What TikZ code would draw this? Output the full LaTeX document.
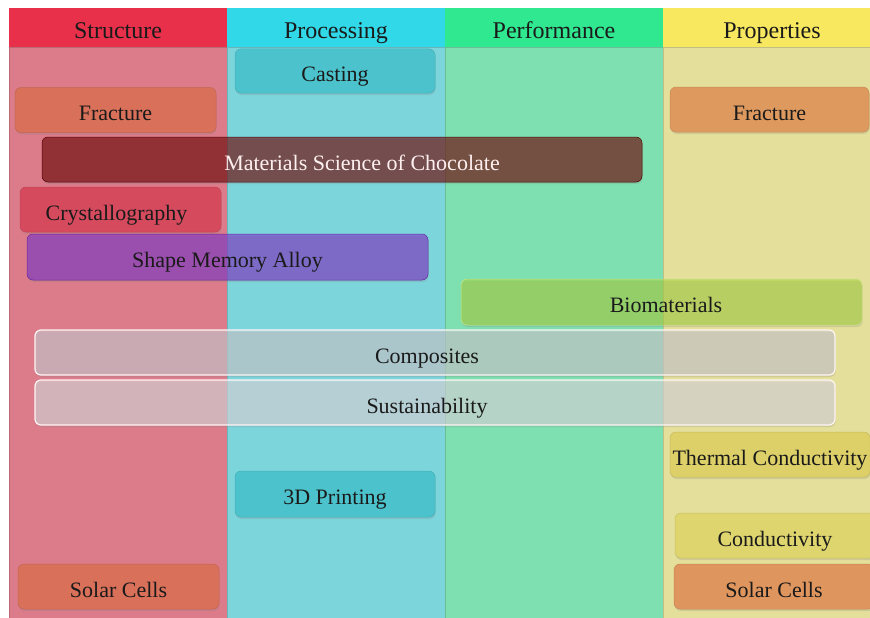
\documentclass[tikz,border=0pt]{standalone}
\usepackage{fontspec}
\setmainfont{Liberation Serif}
\usetikzlibrary{shadows}

% lane colours
\definecolor{structHead}{HTML}{E8304A}
\definecolor{structBody}{HTML}{DC7C8A}
\definecolor{procHead}{HTML}{30D8E8}
\definecolor{procBody}{HTML}{7DD5DC}
\definecolor{perfHead}{HTML}{30E890}
\definecolor{perfBody}{HTML}{7EDFB0}
\definecolor{propHead}{HTML}{F8E860}
\definecolor{propBody}{HTML}{E4DF9A}
% topic colours
\definecolor{castFill}{HTML}{4CC3CC}
\definecolor{fracLeft}{HTML}{D9705A}
\definecolor{fracRight}{HTML}{DE9A5E}
\definecolor{crystFill}{HTML}{D64A5E}
\definecolor{chocFill}{HTML}{6E0000}
\definecolor{smaFill}{HTML}{7D30C8}
\definecolor{bioFill}{HTML}{A5D239}
\definecolor{glassFill}{HTML}{CBC9CF}
\definecolor{thermFill}{HTML}{DDD068}
\definecolor{condFill}{HTML}{DED56E}
\definecolor{solarRight}{HTML}{DF955E}
\definecolor{inkText}{HTML}{1A1A1A}

\tikzset{
	lanehead/.style={rectangle, minimum width=218pt, minimum height=39pt, inner sep=0pt,
		font=\fontsize{24}{27}\selectfont, text=inkText, text height=22pt, text depth=0pt},
	lanebody/.style={rectangle, minimum width=218pt, minimum height=575pt, inner sep=0pt,
		anchor=north, line width=0.5pt},
	topic/.style={rectangle, rounded corners=6pt, minimum height=45pt, inner sep=2pt,
		font=\fontsize{22}{25}\selectfont, text=inkText, line width=0.5pt,
		text height=21pt, text depth=0pt,
		drop shadow={opacity=0.22, shadow xshift=0.6pt, shadow yshift=-2pt}},
	seethru/.style={fill opacity=#1, text opacity=1}
}

\begin{document}
\begin{tikzpicture}[x=1pt, y=-1pt]
	\useasboundingbox (0,0) rectangle (870,618);
	\fill[white] (0,0) rectangle (870,618);

	% the four lanes
	\foreach \name/\x/\hd/\bd in {Structure/118/structHead/structBody,
		Processing/336/procHead/procBody, Performance/554/perfHead/perfBody,
		Properties/772/propHead/propBody}{
		\node[lanebody, fill=\bd, draw=\bd!85!black] (body-\name) at (\x,47) {};
		\node[lanehead, fill=\hd] (head-\name) at (\x,27.5) {\name};
	}

	% topics
	\node[topic, fill=castFill, draw=castFill!90!black, minimum width=200pt, minimum height=44pt] (casting) at (335,71) {Casting};
	\node[topic, fill=fracLeft, draw=fracLeft!90!black, minimum width=201pt] (fractureS) at (115.5,110) {Fracture};
	\node[topic, fill=fracRight, draw=fracRight!90!black, minimum width=199pt] (fractureP) at (769.5,109.5) {Fracture};
	\node[topic, seethru=0.6, fill=chocFill, draw=chocFill!70!black, minimum width=600pt, text=white!94!red] (chocolate) at (342,159.5) {\hspace*{40pt}Materials Science of Chocolate};
	\node[topic, fill=crystFill, draw=crystFill!90!black, minimum width=201pt] (crystal) at (120.5,209.5) {Crystallography\hspace*{8pt}};
	\node[topic, seethru=0.6, fill=smaFill, draw=smaFill!80!black, minimum width=401pt, minimum height=46pt] (memory) at (227.5,257) {Shape Memory Alloy};
	\node[topic, seethru=0.55, fill=bioFill, draw=bioFill!60!white, minimum width=401pt, minimum height=46pt] (biomat) at (661.5,302) {\hspace*{9pt}Biomaterials};
	\node[topic, seethru=0.6, fill=glassFill, draw=white!85!pink, line width=1.2pt, minimum width=800pt] (composites) at (435,352.5) {Composites\hspace*{16pt}};
	\node[topic, seethru=0.6, fill=glassFill!70!white, draw=white!85!pink, line width=1.2pt, minimum width=800pt] (sustain) at (435,402.5) {Sustainability\hspace*{16pt}};
	\node[topic, fill=thermFill, draw=thermFill!90!black, minimum width=200pt] (thermal) at (770,454.5) {Thermal Conductivity};
	\node[topic, fill=castFill, draw=castFill!90!black, minimum width=200pt, minimum height=46pt] (printing) at (335,494) {3D Printing};
	\node[topic, fill=condFill, draw=condFill!90!black, minimum width=200pt] (conduct) at (775,535.5) {Conductivity};
	\node[topic, fill=fracLeft, draw=fracLeft!90!black, minimum width=201pt] (solarS) at (118.5,586.5) {Solar Cells};
	\node[topic, fill=solarRight, draw=solarRight!90!black, minimum width=200pt] (solarP) at (774,586.5) {Solar Cells};
\end{tikzpicture}
\end{document}
